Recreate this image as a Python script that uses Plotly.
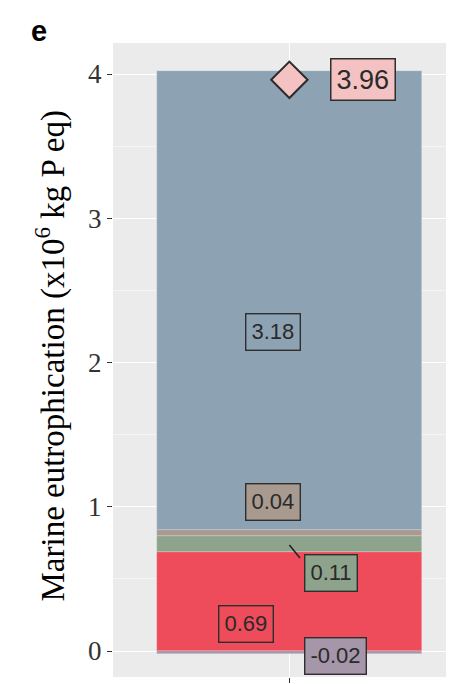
import plotly.graph_objects as go

# ---- data ----
category = [1]
seg_names = ["Purple", "Red", "Green", "Brown", "Blue"]
seg_values = [-0.02, 0.69, 0.11, 0.04, 3.18]
seg_colors = ["#A596A9", "#EE4B5B", "#8DA38B", "#A89A8E", "#8DA3B3"]
seg_labels = ["-0.02", "0.69", "0.11", "0.04", "3.18"]
# label positions (category units, value units)
label_x = [1.158, 0.854, 1.141, 0.945, 0.945]
label_y = [-0.033, 0.187, 0.54, 1.03, 2.21]
net_value = 3.96
net_label = "3.96"
net_label_x = 1.25
yticks = [0, 1, 2, 3, 4]

fig = go.Figure()
for name, v, c in zip(seg_names, seg_values, seg_colors):
    fig.add_trace(go.Bar(x=category, y=[v], name=name,
                         marker=dict(color=c, line=dict(width=0.6, color="rgba(255,255,255,0.35)")),
                         width=0.9, showlegend=False))

fig.add_trace(go.Scatter(x=category, y=[net_value], mode="markers",
                         marker=dict(symbol="diamond", size=28, color="#F4C2C2",
                                     line=dict(width=2, color="#2b2b2b")),
                         showlegend=False))

for t, x, y, c in zip(seg_labels, label_x, label_y, seg_colors):
    fig.add_annotation(x=x, y=y, text=t, showarrow=False, bgcolor=c,
                       bordercolor="#2e2e2e", borderwidth=1.4, borderpad=5,
                       font=dict(family="Liberation Sans, Arial", size=22, color="#2a2a2a"))

# leader line for 0.11 label
fig.add_shape(type="line", x0=1.0, y0=0.735, x1=1.036, y1=0.645,
              line=dict(color="#222", width=1.5))

fig.add_annotation(x=net_label_x, y=net_value, text=net_label, showarrow=False,
                   bgcolor="#F4C2C2", bordercolor="#2e2e2e", borderwidth=1.5, borderpad=5,
                   font=dict(family="Liberation Sans, Arial", size=27, color="#2a2a2a"))

fig.add_annotation(xref="paper", yref="paper", x=-0.245, y=1.019, xanchor="left", yanchor="middle",
                   text="<b>e</b>", showarrow=False,
                   font=dict(family="Liberation Sans, Arial", size=29, color="black"))

fig.add_annotation(xref="paper", yref="paper", x=-0.182, y=0.507, xanchor="center", yanchor="middle",
                   textangle=-90, showarrow=False,
                   text="Marine eutrophication (x10<sup>6</sup> kg P eq)",
                   font=dict(family="Liberation Serif, Times New Roman", size=33, color="black"))

fig.update_layout(
    width=446, height=676,
    margin=dict(l=105, r=0, t=35, b=7),
    paper_bgcolor="white", plot_bgcolor="#EBEBEB",
    barmode="relative", bargap=0,
    xaxis=dict(range=[0.4, 1.56], tickvals=[1], showticklabels=False, showgrid=True,
               gridcolor="white", gridwidth=1.3, zeroline=False, automargin=False,
               ticks="outside", ticklen=5, tickcolor="#333", tickwidth=1.2),
    yaxis=dict(range=[-0.18, 4.215], tickvals=yticks, showgrid=True,
               gridcolor="white", gridwidth=1.3, zeroline=False, automargin=False,
               ticks="outside", ticklen=5, tickcolor="#333", tickwidth=1.2,
               tickfont=dict(family="Liberation Serif, Times New Roman", size=27, color="#333"),
               minor=dict(dtick=0.5, showgrid=True, gridcolor="#F5F5F5", gridwidth=0.7)),
)

fig.write_html("out.html")
